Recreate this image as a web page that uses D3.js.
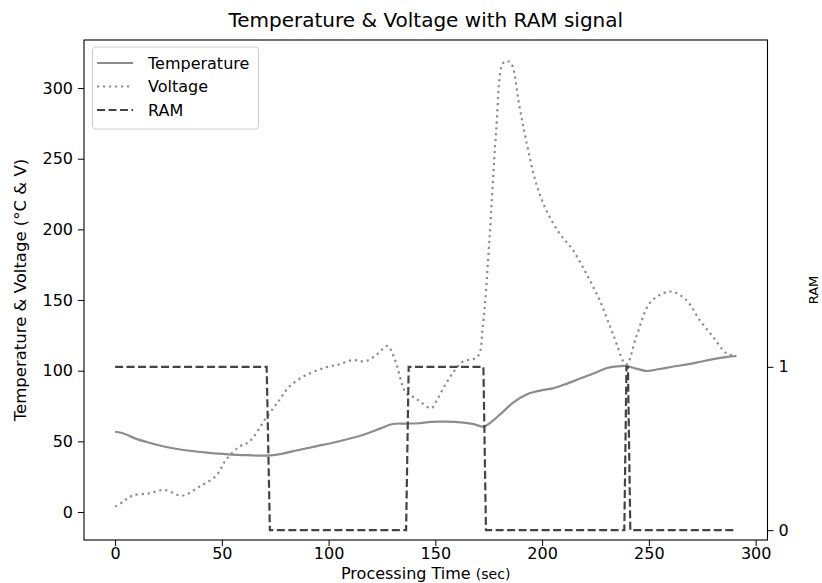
<!DOCTYPE html>
<html>
<head>
<meta charset="utf-8">
<script src="https://cdn.jsdelivr.net/npm/d3@7"></script>
<style>
  html, body { margin: 0; padding: 0; background: #fff; }
  svg { display: block; }
  text { font-family: "DejaVu Sans", sans-serif; fill: #000; }
</style>
</head>
<body>
<svg id="chart" width="822" height="583"></svg>
<script>
// ---- data ----
const tempTime = [0, 4, 9, 16, 24, 32, 42, 53, 62, 71, 78, 86, 94, 102, 110, 118, 124, 130, 136, 142, 148, 155, 163, 168, 172.5, 176, 181, 186, 190, 194, 200, 205, 211, 218, 224, 230, 235, 239.5, 244, 249, 255, 261, 268, 274, 280, 286, 291];
const temperature = [56.8, 55.6, 52.3, 49, 46, 43.9, 42.2, 40.8, 40.2, 39.9, 41.2, 43.9, 46.5, 49, 52, 55.6, 59, 62.3, 62.6, 62.8, 63.8, 63.9, 63.2, 62.2, 60.4, 63.5, 70, 76.9, 81, 84, 86.2, 87.5, 90.5, 94.6, 98, 101.7, 103, 103.3, 101.5, 99.8, 101.2, 102.8, 104.5, 106.3, 108.2, 109.6, 110.4];

const voltTime = [0, 4, 8, 16, 23, 31.5, 39.4, 47.2, 51.9, 58.1, 62.8, 70.6, 76.9, 81.6, 89.4, 98.8, 105, 111.2, 117.5, 123, 127.6, 131, 136.3, 139.4, 143, 148, 151, 155, 159, 162.8, 169.8, 172.2, 175.3, 178.4, 181.6, 183.5, 185.5, 189.4, 192.5, 197.2, 201.9, 208.1, 214.4, 220.6, 226.9, 233.1, 239.4, 244.1, 250.3, 256.6, 261.2, 267.5, 273.8, 280, 286.3, 290];
const voltage = [3.8, 7.5, 11.6, 13.2, 15.6, 11.6, 17.9, 25.5, 36.8, 46.2, 49.7, 66.3, 79.2, 88.7, 96.9, 102.4, 104.5, 107.5, 106.8, 112, 117.5, 108, 84, 81.6, 78, 73.4, 80, 91, 100, 106.4, 110, 131, 192, 268, 317.5, 319, 317.5, 286.8, 263, 232.6, 213.7, 197.2, 185.4, 168.9, 150, 126.4, 104.5, 124, 147.7, 154.7, 155.9, 150, 135.8, 124, 112.3, 110.4];

const ramTime = [0, 71, 72.5, 136.3, 137.5, 172.5, 173.7, 238.5, 239.5, 240.2, 241.3, 291];
const ram = [1, 1, 0, 0, 1, 1, 0, 0, 1, 1, 0, 0];

const xTicks = [0, 50, 100, 150, 200, 250, 300];
const yTicks = [0, 50, 100, 150, 200, 250, 300];
const ramTicks = [0, 1];

const seriesNames = ["Temperature", "Voltage", "RAM"];

// ---- layout ----
const svg = d3.select("#chart");
const L = 84, R = 767.5, T = 40, B = 540;
const fs = 16;

const x = d3.scaleLinear().domain([-14.55, 305.55]).range([L, R]);
const y = d3.scaleLinear().domain([-19.8, 334]).range([B, T]);
const y2 = d3.scaleLinear().domain([-0.06, 3.0]).range([B, T]);

const styles = {
  Temperature: { color: "#8c8c8c", width: 2.2, dash: null },
  Voltage: { color: "#8c8c8c", width: 2.2, dash: "2.2,3.8" },
  RAM: { color: "#444444", width: 2.2, dash: "8,3.5" }
};

// lines
const g = svg.append("g");
const lineT = d3.line().x((d, i) => x(tempTime[i])).y(d => y(d)).curve(d3.curveCatmullRom.alpha(0.5));
const lineV = d3.line().x((d, i) => x(voltTime[i])).y(d => y(d)).curve(d3.curveCatmullRom.alpha(0.5));
const lineR = d3.line().x((d, i) => x(ramTime[i])).y(d => y2(d));

g.append("path").attr("d", lineT(temperature)).attr("fill", "none")
  .attr("stroke", styles.Temperature.color).attr("stroke-width", styles.Temperature.width);
g.append("path").attr("d", lineV(voltage)).attr("fill", "none")
  .attr("stroke", styles.Voltage.color).attr("stroke-width", styles.Voltage.width)
  .attr("stroke-dasharray", styles.Voltage.dash);
g.append("path").attr("d", lineR(ram)).attr("fill", "none")
  .attr("stroke", styles.RAM.color).attr("stroke-width", styles.RAM.width)
  .attr("stroke-dasharray", styles.RAM.dash);

// axes
function styleAxis(sel) {
  sel.selectAll("path").remove();
  sel.selectAll("line").attr("stroke", "#000").attr("stroke-width", 1);
  sel.selectAll("text").attr("font-size", fs).attr("font-family", "DejaVu Sans").attr("fill", "#222");
}
const xAxis = svg.append("g").attr("transform", `translate(0,${B})`)
  .call(d3.axisBottom(x).tickValues(xTicks).tickSize(6).tickPadding(2).tickFormat(d3.format("d")));
styleAxis(xAxis);
const yAxis = svg.append("g").attr("transform", `translate(${L},0)`)
  .call(d3.axisLeft(y).tickValues(yTicks).tickSize(6).tickPadding(5).tickFormat(d3.format("d")));
styleAxis(yAxis);
const y2Axis = svg.append("g").attr("transform", `translate(${R},0)`)
  .call(d3.axisRight(y2).tickValues(ramTicks).tickSize(6).tickPadding(5).tickFormat(d3.format("d")));
styleAxis(y2Axis);

// frame
svg.append("rect").attr("x", L).attr("y", T).attr("width", R - L).attr("height", B - T)
  .attr("fill", "none").attr("stroke", "#000").attr("stroke-width", 1.1);

// title & labels
svg.append("text").attr("x", (L + R) / 2).attr("y", 27).attr("text-anchor", "middle")
  .attr("font-size", 20).attr("fill", "#222").text("Temperature & Voltage with RAM signal");

const xl = svg.append("text").attr("x", (L + R) / 2).attr("y", 579).attr("text-anchor", "middle")
  .attr("font-size", 16).attr("fill", "#222");
xl.append("tspan").text("Processing Time ");
xl.append("tspan").attr("font-size", 16 * 0.88).text("(sec)");

svg.append("text").attr("transform", `translate(26,${(T + B) / 2}) rotate(-90)`)
  .attr("text-anchor", "middle").attr("font-size", 16.5).attr("fill", "#222")
  .text("Temperature & Voltage (°C & V)");

svg.append("text").attr("transform", `translate(818,${(T + B) / 2}) rotate(-90)`)
  .attr("text-anchor", "middle").attr("font-size", 13).attr("fill", "#222")
  .text("RAM");

// legend
const lg = svg.append("g");
lg.append("rect").attr("x", 92.5).attr("y", 47).attr("width", 166).attr("height", 82).attr("rx", 3)
  .attr("fill", "#fff").attr("fill-opacity", 0.8).attr("stroke", "#cccccc").attr("stroke-width", 1);
seriesNames.forEach((name, i) => {
  const yy = 63 + i * 23.5;
  const st = styles[name];
  lg.append("line").attr("x1", 97).attr("x2", 133).attr("y1", yy).attr("y2", yy)
    .attr("stroke", st.color).attr("stroke-width", st.width)
    .attr("stroke-dasharray", st.dash);
  lg.append("text").attr("x", 148).attr("y", yy).attr("dy", "0.36em")
    .attr("font-size", fs).attr("fill", "#222").text(name);
});
</script>
</body>
</html>
